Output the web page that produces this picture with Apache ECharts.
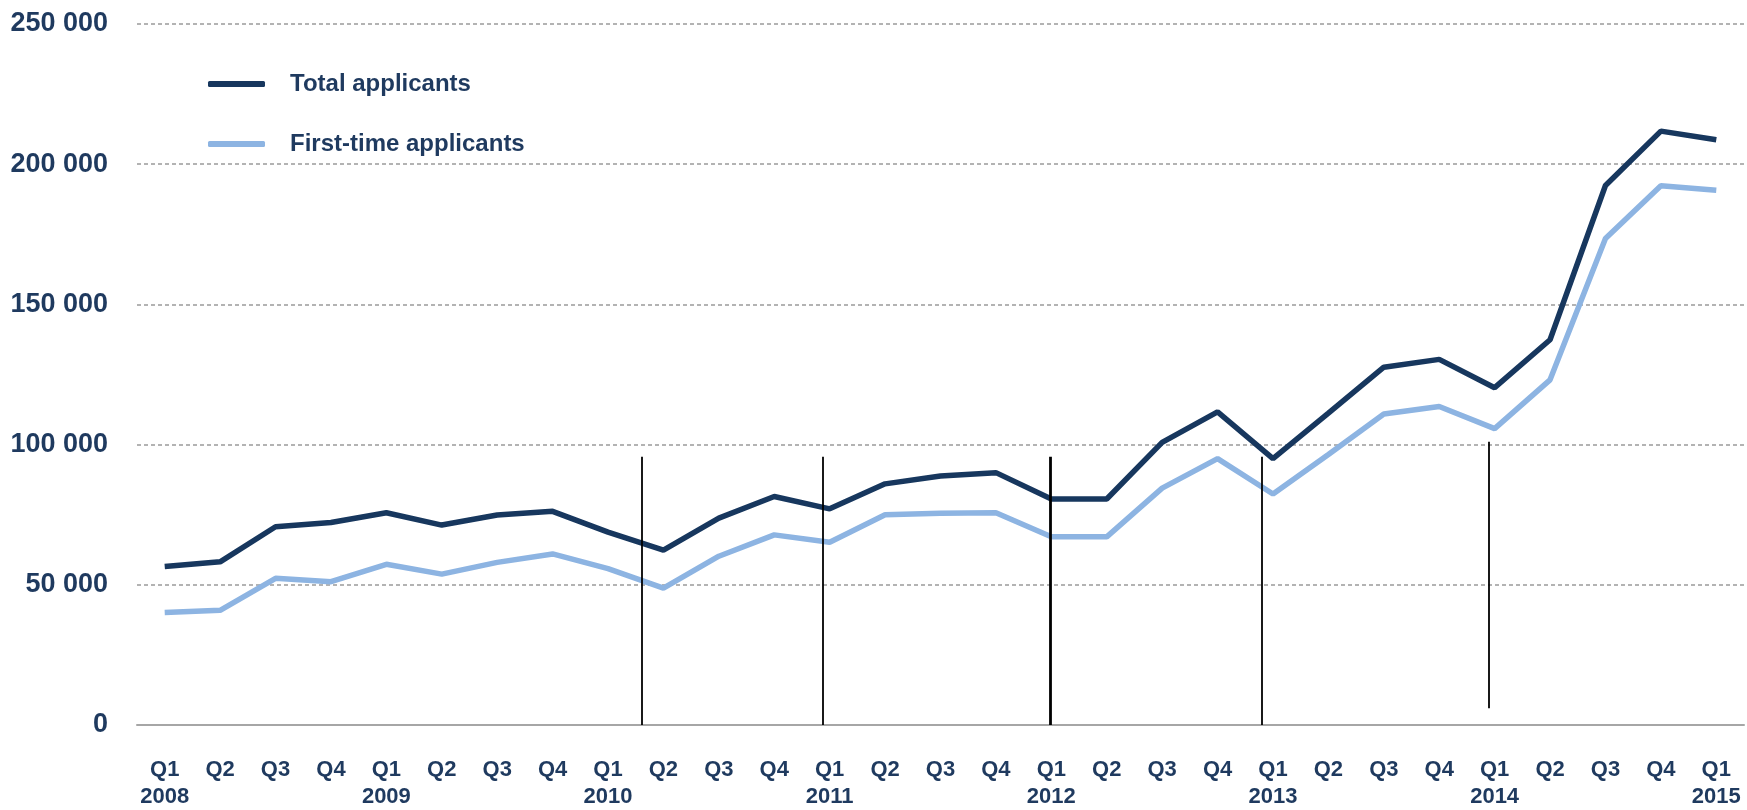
<!DOCTYPE html>
<html>
<head>
<meta charset="utf-8">
<script src="https://cdn.jsdelivr.net/npm/echarts@6/dist/echarts.min.js"></script>
<style>
  html, body { margin: 0; padding: 0; background: #fff; }
  #chart { width: 1747px; height: 810px; }
</style>
</head>
<body>
<div id="chart"></div>
<script>
// quarters, Q1 2008 .. Q1 2015
var categories = [
  "Q1\n2008", "Q2", "Q3", "Q4",
  "Q1\n2009", "Q2", "Q3", "Q4",
  "Q1\n2010", "Q2", "Q3", "Q4",
  "Q1\n2011", "Q2", "Q3", "Q4",
  "Q1\n2012", "Q2", "Q3", "Q4",
  "Q1\n2013", "Q2", "Q3", "Q4",
  "Q1\n2014", "Q2", "Q3", "Q4",
  "Q1\n2015"
];

var totalApplicants = [
  56500, 58200, 70700, 72200,
  75700, 71300, 74900, 76200,
  68800, 62400, 73800, 81500,
  77100, 86000, 88800, 90000,
  80600, 80600, 100800, 111700,
  95000, 111200, 127600, 130400,
  120300, 137400, 192400, 211800,
  208700
];

var firstTimeApplicants = [
  40100, 40900, 52300, 51100,
  57300, 53800, 58000, 61000,
  55800, 48800, 60200, 67800,
  65200, 75000, 75500, 75700,
  67100, 67100, 84500, 95000,
  82400, 96500, 110900, 113600,
  105700, 123100, 173500, 192300,
  190700
];

// hand drawn vertical markers: position in category units, bottom / top value
var markerPos = [8.6, 11.88, 15.98, 19.8, 23.9];
var markerFrom = [0, 0, 0, 0, 6000];
var markerTo = [95700, 95700, 95700, 95700, 101000];
var markerWidth = [1.8, 1.8, 2.8, 1.8, 1.8];

var textColor = "#1f3a5f";
var fontName = "'Liberation Sans', Arial, sans-serif";

var markerLines = [];
for (var i = 0; i < markerPos.length; i++) {
  markerLines.push([
    { coord: [markerPos[i], markerFrom[i]], lineStyle: { width: markerWidth[i] } },
    { coord: [markerPos[i], markerTo[i]] }
  ]);
}

var voChart = echarts.init(document.getElementById("chart"));

var voOption = {
  animation: false,
  grid: { left: 137, right: 3, top: 24, bottom: 79 },
  legend: {
    orient: "vertical",
    left: 203,
    top: 67,
    itemGap: 36,
    itemWidth: 57,
    itemHeight: 6,
    icon: "roundRect",
    textStyle: {
      color: textColor,
      fontFamily: fontName,
      fontWeight: "bold",
      fontSize: 24,
      padding: [0, 0, 0, 20]
    },
    data: ["Total applicants", "First-time applicants"]
  },
  xAxis: [{
    type: "category",
    data: categories,
    boundaryGap: true,
    axisLine: { lineStyle: { color: "#a6a6a6", width: 2 } },
    axisTick: { interval: 0, length: 7, lineStyle: { color: "#999", width: 1.5 } },
    axisLabel: {
      interval: 0,
      margin: 31,
      color: textColor,
      fontFamily: "'Liberation Sans Narrow', 'Liberation Sans', sans-serif",
      fontWeight: "bold",
      fontSize: 22,
      lineHeight: 27
    }
  }, {
    type: "value",
    min: -0.5,
    max: 28.5,
    show: false
  }],
  yAxis: {
    type: "value",
    min: 0,
    max: 250000,
    interval: 50000,
    axisLine: { show: false },
    axisTick: { show: false },
    splitLine: { lineStyle: { color: "#9a9a9a", width: 1.5, type: [4, 3] } },
    axisLabel: {
      margin: 29,
      color: textColor,
      fontFamily: fontName,
      fontWeight: "bold",
      fontSize: 27,
      formatter: function (v) {
        return v === 0 ? "0" : String(v).replace(/\B(?=(\d{3})+(?!\d))/g, " ");
      }
    }
  },
  series: [{
    name: "First-time applicants",
    type: "line",
    data: firstTimeApplicants,
    symbol: "none",
    z: 2,
    color: "#8db4e2",
    lineStyle: { width: 5.5, color: "#8db4e2" }
  }, {
    name: "Total applicants",
    type: "line",
    data: totalApplicants,
    symbol: "none",
    z: 3,
    color: "#17375e",
    lineStyle: { width: 5.5, color: "#17375e" }
  }, {
    name: "markers",
    type: "line",
    xAxisIndex: 1,
    data: [],
    z: 4,
    markLine: {
      silent: true,
      symbol: "none",
      label: { show: false },
      lineStyle: { color: "#000", type: "solid", width: 1.8 },
      data: markerLines
    }
  }]
};

voChart.setOption(voOption);
</script>
</body>
</html>
